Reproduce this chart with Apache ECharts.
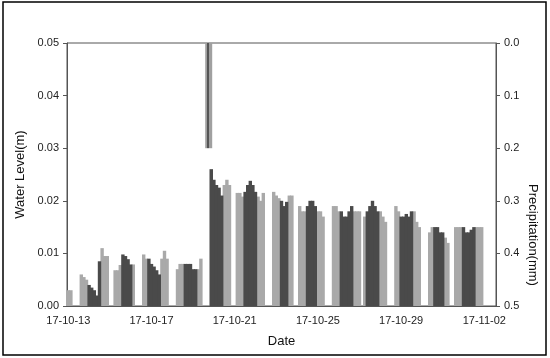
<!DOCTYPE html>
<html>
<head>
<meta charset="utf-8">
<script src="https://cdn.jsdelivr.net/npm/echarts@6/dist/echarts.min.js"></script>
<style>
html, body { margin: 0; padding: 0; background: #fff; }
#main { width: 550px; height: 358px; }
</style>
</head>
<body>
<div id="main"></div>
<script>
// 3-hour slots starting 17-10-13 00:00
var slotsPerDay = 8;
var slotCount = 165;
var labelEveryDays = 4;

// water level (m), light grey bars, one row per day
var lightLevel = [
    0.003, 0.003, null, null, null, 0.006, 0.0055, 0.005,
    null, null, null, null, null, 0.011, 0.0095, 0.0095,
    null, null, 0.0068, 0.0068, 0.0078, null, null, null,
    null, 0.0079, null, null, null, 0.0098, 0.009, null,
    null, null, null, null, 0.009, 0.0105, 0.009, null,
    null, null, 0.007, 0.008, 0.008, null, null, null,
    null, null, 0.007, 0.009, null, null, null, 0.026,
    null, null, null, null, 0.023, 0.024, 0.023, null,
    null, 0.0215, 0.0215, 0.0208, null, null, null, null,
    null, 0.0208, 0.02, 0.0215, null, null, null, 0.0217,
    0.021, 0.0205, null, null, null, 0.021, 0.021, null,
    null, 0.019, 0.018, 0.018, null, null, null, null,
    0.018, 0.018, 0.017, null, null, null, 0.019, 0.019,
    0.018, null, null, null, null, null, 0.018, 0.018,
    0.018, null, 0.017, null, null, null, null, null,
    0.018, 0.017, 0.016, null, null, null, 0.019, 0.018,
    null, null, null, null, null, 0.018, 0.016, 0.015,
    null, null, null, 0.014, 0.015, null, null, null,
    null, 0.013, 0.012, null, null, 0.015, 0.015, 0.015,
    null, null, null, null, null, 0.015, 0.015, 0.015,
    null, null, null, null, null
];

// water level (m), dark grey bars
var darkLevel = [
    null, null, null, null, null, null, null, null,
    0.004, 0.0035, 0.003, 0.002, 0.0085, null, null, null,
    null, null, null, null, null, 0.0098, 0.0095, 0.0089,
    0.0079, null, null, null, null, null, null, 0.009,
    0.008, 0.0075, 0.0068, 0.006, null, null, null, null,
    null, null, null, null, null, 0.008, 0.008, 0.008,
    0.007, 0.007, null, null, null, null, null, 0.026,
    0.024, 0.023, 0.0225, 0.021, null, null, null, null,
    null, null, null, null, 0.0217, 0.023, 0.0238, 0.023,
    0.0217, null, null, null, null, null, null, null,
    null, null, 0.02, 0.019, 0.0198, null, null, null,
    null, null, null, null, 0.019, 0.02, 0.02, 0.019,
    null, null, null, null, null, null, null, null,
    null, 0.018, 0.017, 0.017, 0.018, 0.019, null, null,
    null, null, null, 0.018, 0.019, 0.02, 0.019, 0.018,
    null, null, null, null, null, null, null, null,
    0.017, 0.017, 0.0175, 0.017, 0.018, null, null, null,
    null, null, null, null, null, 0.015, 0.015, 0.014,
    0.014, null, null, null, null, null, null, null,
    0.015, 0.014, 0.014, 0.0145, 0.015, null, null, null,
    null, null, null, null, null
];

// precipitation (mm)
var precipTime = ['17-10-19 18:00'];
var precipValue = [0.2];

var levelTicks = [0, 0.05, 0.01];   // min, max, interval
var precipTicks = [0, 0.5, 0.1];

function pad(n) { return (n < 10 ? '0' : '') + n; }

var categories = [];
for (var i = 0; i < slotCount; i++) {
    var d = new Date(2017, 9, 13 + Math.floor(i / slotsPerDay));
    var h = (i % slotsPerDay) * 3;
    categories.push(String(d.getFullYear()).slice(2) + '-' + pad(d.getMonth() + 1) + '-' + pad(d.getDate()) + ' ' + pad(h) + ':00');
}

var precip = [];
for (var i = 0; i < slotCount; i++) precip.push(null);
for (var k = 0; k < precipTime.length; k++) {
    precip[categories.indexOf(precipTime[k])] = precipValue[k];
}

var myChart = echarts.init(document.getElementById('main'), null, { renderer: 'canvas' });

var font = 'Liberation Sans, Arial, sans-serif';
var axisColor = '#555';
var lightGrey = '#a9a9a9';
var darkGrey = '#4a4a4a';

var option = {
    animation: false,
    backgroundColor: '#fff',
    textStyle: { fontFamily: font },
    grid: {
        left: 67,
        right: 54,
        top: 43,
        bottom: 52,
        show: true,
        borderColor: axisColor,
        borderWidth: 1
    },
    graphic: [
        {
            type: 'rect',
            shape: { x: 3, y: 2, width: 543, height: 353 },
            style: { fill: 'none', stroke: '#000', lineWidth: 1.5 }
        },
        {
            // right axis title, sits lower than the plot middle in the original
            type: 'text',
            x: 533,
            y: 235,
            rotation: -Math.PI / 2,
            style: {
                text: 'Precipitation(mm)',
                font: '13px ' + font,
                fill: '#111',
                align: 'center',
                verticalAlign: 'middle'
            }
        }
    ],
    xAxis: [
        {
            type: 'category',
            data: categories,
            name: 'Date',
            nameLocation: 'middle',
            nameGap: 29,
            nameTextStyle: { fontSize: 13, color: '#111', fontFamily: font },
            axisLine: { lineStyle: { color: axisColor } },
            axisTick: {
                length: 4,
                interval: function (idx) { return idx % slotsPerDay === 0; },
                lineStyle: { color: axisColor }
            },
            axisLabel: {
                interval: function (idx) { return idx % (slotsPerDay * labelEveryDays) === 0; },
                formatter: function (v) { return v.slice(0, 8); },
                fontSize: 11,
                color: '#222',
                margin: 9
            },
            splitLine: { show: false }
        },
        {
            type: 'category',
            data: categories,
            show: false
        }
    ],
    yAxis: [
        {
            type: 'value',
            min: levelTicks[0],
            max: levelTicks[1],
            interval: levelTicks[2],
            name: 'Water Level(m)',
            nameLocation: 'middle',
            nameGap: 38,
            nameTextStyle: { fontSize: 13, color: '#111', fontFamily: font },
            axisLine: { show: true, lineStyle: { color: axisColor } },
            axisTick: { show: true, length: 4, lineStyle: { color: axisColor } },
            axisLabel: {
                fontSize: 11,
                color: '#222',
                margin: 8,
                formatter: function (v) { return v.toFixed(2); }
            },
            splitLine: { show: false }
        },
        {
            type: 'value',
            inverse: true,
            min: precipTicks[0],
            max: precipTicks[1],
            interval: precipTicks[2],
            axisLine: { show: true, lineStyle: { color: axisColor } },
            axisTick: { show: true, length: 4, lineStyle: { color: axisColor } },
            axisLabel: {
                fontSize: 11,
                color: '#222',
                margin: 8,
                formatter: function (v) { return v.toFixed(1); }
            },
            splitLine: { show: false }
        }
    ],
    series: [
        {
            name: 'light',
            type: 'bar',
            xAxisIndex: 0,
            yAxisIndex: 0,
            data: lightLevel,
            barWidth: 3.4,
            barGap: '-100%',
            itemStyle: { color: lightGrey }
        },
        {
            name: 'dark',
            type: 'bar',
            xAxisIndex: 0,
            yAxisIndex: 0,
            data: darkLevel,
            barWidth: 3.4,
            barGap: '-100%',
            itemStyle: { color: darkGrey }
        },
        {
            name: 'precip',
            type: 'bar',
            xAxisIndex: 1,
            yAxisIndex: 1,
            data: precip,
            barWidth: 7,
            itemStyle: {
                color: new echarts.graphic.LinearGradient(0, 0, 1, 0, [
                    { offset: 0, color: '#a0a0a0' },
                    { offset: 0.3, color: '#a0a0a0' },
                    { offset: 0.31, color: '#555' },
                    { offset: 0.6, color: '#555' },
                    { offset: 0.61, color: '#a0a0a0' },
                    { offset: 1, color: '#a0a0a0' }
                ])
            }
        }
    ]
};

if (option && typeof option === 'object') {
    myChart.setOption(option);
}
</script>
</body>
</html>
